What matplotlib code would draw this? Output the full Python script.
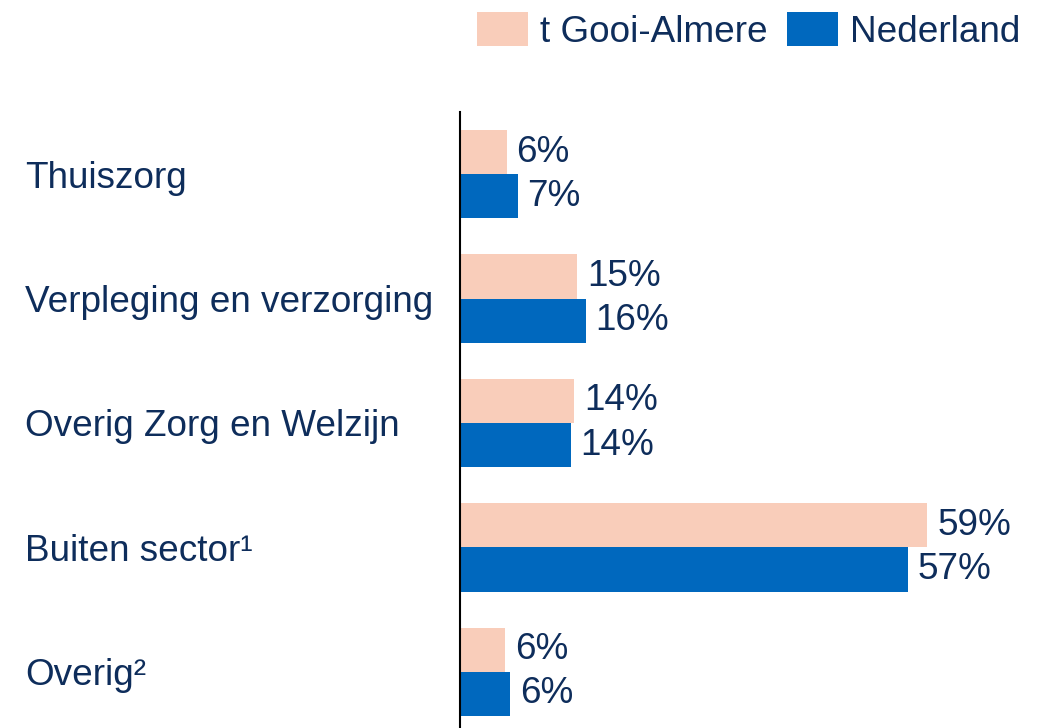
import matplotlib
matplotlib.use("Agg")
import matplotlib.pyplot as plt
import numpy as np

categories = ["Thuiszorg", "Verpleging en verzorging", "Overig Zorg en Welzijn",
              "Buiten sector¹", "Overig²"]
series_names = ["t Gooi-Almere", "Nederland"]
gooi = [5.9, 14.8, 14.4, 59.0, 5.7]
nl = [7.3, 15.9, 14.0, 56.5, 6.3]
gooi_labels = ["6%", "15%", "14%", "59%", "6%"]
nl_labels = ["7%", "16%", "14%", "57%", "6%"]

PINK = "#F9CDBA"
BLUE = "#0068BE"
TEXT = "#0E2D5B"
FS = 26.6

plt.rcParams["font.family"] = ["Liberation Sans", "DejaVu Sans"]

fig = plt.figure(figsize=(10.51, 7.28), dpi=100)
ax = fig.add_axes([460 / 1051, -6 / 728, 1 - 460 / 1051, (728 - 112 + 6) / 728])

y = np.arange(len(categories))
h = 0.355
b1 = ax.barh(y - h / 2, gooi, height=h, color=PINK, label=series_names[0])
b2 = ax.barh(y + h / 2, nl, height=h, color=BLUE, label=series_names[1])
ax.bar_label(b1, labels=gooi_labels, padding=7, fontsize=FS, color=TEXT)
ax.bar_label(b2, labels=nl_labels, padding=7, fontsize=FS, color=TEXT)

ax.set_ylim(len(categories) - 0.5, -0.5)
ax.set_xlim(0, 74.6)
for s in ["top", "right", "bottom"]:
    ax.spines[s].set_visible(False)
ax.spines["left"].set_color("black")
ax.spines["left"].set_linewidth(1.5)
ax.set_xticks([])
ax.set_yticks(y)
ax.set_yticklabels(categories, fontsize=FS, color=TEXT, ha="left")
ax.tick_params(axis="y", length=0, pad=(460 - 25) * 72 / 100)

fig.legend(handles=[b1, b2], labels=series_names, loc="center left",
           bbox_to_anchor=(477 / 1051, 1 - 31 / 728), ncol=2, frameon=False,
           fontsize=FS, handlelength=1.38, handleheight=1.03,
           handletextpad=0.32, columnspacing=0.54, borderpad=0,
           borderaxespad=0, labelcolor=TEXT)

fig.savefig("out.png", dpi=100)
